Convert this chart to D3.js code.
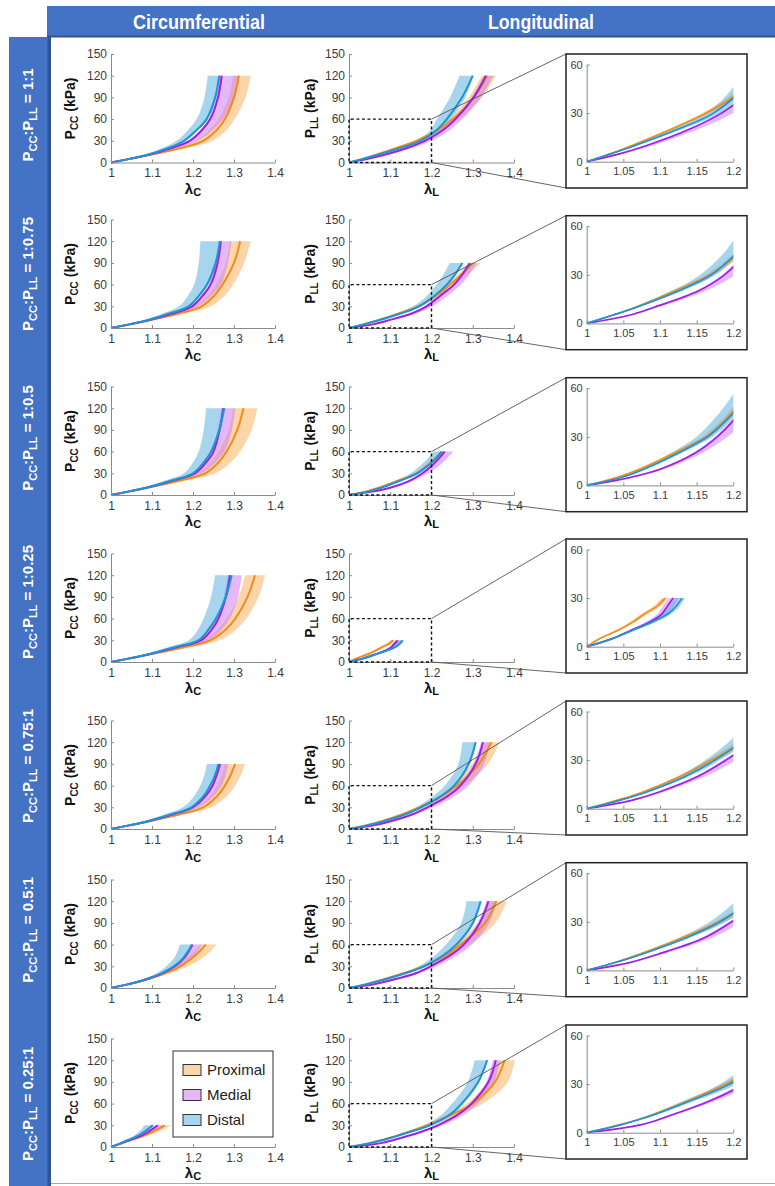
<!DOCTYPE html>
<html>
<head>
<meta charset="utf-8">
<script src="https://cdn.jsdelivr.net/npm/d3@7"></script>
<style>
  body { margin: 0; background: #fff; }
  svg { display: block; }
</style>
</head>
<body>
<svg id="fig" width="775" height="1186"></svg>
<script>
// ---- data ----
const ratioLabels = [["1", "1"], ["1", "0.75"], ["1", "0.5"], ["1", "0.25"], ["0.75", "1"], ["0.5", "1"], ["0.25", "1"]];
const regionNames = ["Proximal", "Medial", "Distal"];
const circMaxP = [120, 120, 120, 120, 90, 60, 30];
const longMaxP = [120, 90, 60, 30, 120, 120, 120];

// pressure levels (kPa) at which stretch was read
const P120 = [0, 5, 10, 20, 30, 45, 60, 90, 120];
const P90 = [0, 5, 10, 20, 30, 45, 60, 75, 90];
const P60 = [0, 5, 10, 20, 30, 40, 50, 60];
const P30 = [0, 5, 10, 15, 20, 25, 30];

const xTicks = [1, 1.1, 1.2, 1.3, 1.4];
const yTicks = [0, 30, 60, 90, 120, 150];
const insetXTicks = [1, 1.05, 1.1, 1.15, 1.2];
const insetYTicks = [0, 30, 60];

// circumferential stretch: mean, lower and upper band, one row per loading ratio
const circProxMean = [
  [1, 1.047, 1.090, 1.170, 1.225, 1.258, 1.278, 1.300, 1.312],
  [1, 1.046, 1.088, 1.165, 1.221, 1.252, 1.272, 1.300, 1.315],
  [1, 1.046, 1.088, 1.168, 1.230, 1.262, 1.282, 1.308, 1.323],
  [1, 1.047, 1.090, 1.175, 1.242, 1.280, 1.303, 1.333, 1.351],
  [1, 1.045, 1.088, 1.165, 1.225, 1.258, 1.278, 1.292, 1.303],
  [1, 1.040, 1.077, 1.130, 1.169, 1.195, 1.215, 1.231],
  [1, 1.025, 1.050, 1.078, 1.098, 1.116, 1.131]
];
const circProxLo = [
  [1, 1.044, 1.085, 1.160, 1.207, 1.240, 1.262, 1.287, 1.298],
  [1, 1.043, 1.083, 1.155, 1.205, 1.236, 1.255, 1.280, 1.290],
  [1, 1.043, 1.083, 1.157, 1.212, 1.243, 1.262, 1.287, 1.298],
  [1, 1.044, 1.085, 1.163, 1.224, 1.260, 1.282, 1.311, 1.327],
  [1, 1.042, 1.083, 1.155, 1.210, 1.240, 1.258, 1.270, 1.278],
  [1, 1.037, 1.072, 1.122, 1.158, 1.182, 1.202, 1.218],
  [1, 1.022, 1.045, 1.070, 1.088, 1.102, 1.114]
];
const circProxHi = [
  [1, 1.050, 1.096, 1.185, 1.248, 1.282, 1.302, 1.328, 1.341],
  [1, 1.049, 1.094, 1.180, 1.244, 1.278, 1.298, 1.325, 1.341],
  [1, 1.049, 1.094, 1.184, 1.255, 1.292, 1.315, 1.343, 1.357],
  [1, 1.050, 1.096, 1.190, 1.265, 1.306, 1.330, 1.360, 1.376],
  [1, 1.048, 1.094, 1.178, 1.245, 1.282, 1.303, 1.317, 1.327],
  [1, 1.043, 1.082, 1.142, 1.188, 1.220, 1.242, 1.258],
  [1, 1.028, 1.056, 1.088, 1.112, 1.131, 1.147]
];
const circMedMean = [
  [1, 1.045, 1.087, 1.148, 1.192, 1.222, 1.242, 1.261, 1.270],
  [1, 1.045, 1.087, 1.150, 1.198, 1.224, 1.243, 1.260, 1.268],
  [1, 1.045, 1.087, 1.152, 1.205, 1.232, 1.250, 1.265, 1.274],
  [1, 1.045, 1.088, 1.158, 1.220, 1.246, 1.262, 1.280, 1.290],
  [1, 1.044, 1.086, 1.150, 1.200, 1.230, 1.248, 1.258, 1.266],
  [1, 1.040, 1.075, 1.124, 1.156, 1.176, 1.189, 1.199],
  [1, 1.025, 1.048, 1.072, 1.088, 1.102, 1.114]
];
const circMedLo = [
  [1, 1.043, 1.084, 1.144, 1.188, 1.218, 1.238, 1.257, 1.265],
  [1, 1.043, 1.084, 1.146, 1.194, 1.220, 1.238, 1.254, 1.262],
  [1, 1.043, 1.084, 1.148, 1.200, 1.227, 1.245, 1.260, 1.269],
  [1, 1.043, 1.085, 1.154, 1.215, 1.241, 1.257, 1.275, 1.285],
  [1, 1.042, 1.083, 1.146, 1.196, 1.226, 1.243, 1.253, 1.260],
  [1, 1.038, 1.072, 1.120, 1.152, 1.172, 1.186, 1.196],
  [1, 1.023, 1.045, 1.068, 1.083, 1.096, 1.108]
];
const circMedHi = [
  [1, 1.048, 1.093, 1.160, 1.212, 1.248, 1.273, 1.300, 1.313],
  [1, 1.048, 1.092, 1.160, 1.213, 1.245, 1.268, 1.285, 1.294],
  [1, 1.048, 1.092, 1.162, 1.222, 1.255, 1.277, 1.295, 1.303],
  [1, 1.048, 1.093, 1.168, 1.238, 1.270, 1.290, 1.310, 1.319],
  [1, 1.047, 1.091, 1.160, 1.215, 1.250, 1.270, 1.280, 1.286],
  [1, 1.043, 1.080, 1.132, 1.170, 1.194, 1.210, 1.223],
  [1, 1.027, 1.052, 1.078, 1.097, 1.114, 1.130]
];
const circDistMean = [
  [1, 1.045, 1.085, 1.140, 1.178, 1.209, 1.233, 1.254, 1.264],
  [1, 1.044, 1.084, 1.142, 1.189, 1.215, 1.234, 1.255, 1.266],
  [1, 1.044, 1.085, 1.148, 1.200, 1.226, 1.244, 1.264, 1.276],
  [1, 1.044, 1.086, 1.152, 1.213, 1.238, 1.256, 1.280, 1.294],
  [1, 1.043, 1.084, 1.145, 1.196, 1.225, 1.242, 1.254, 1.262],
  [1, 1.040, 1.074, 1.122, 1.153, 1.174, 1.187, 1.197],
  [1, 1.022, 1.043, 1.064, 1.078, 1.091, 1.102]
];
const circDistLo = [
  [1, 1.041, 1.078, 1.125, 1.160, 1.188, 1.209, 1.228, 1.236],
  [1, 1.040, 1.076, 1.126, 1.166, 1.188, 1.203, 1.214, 1.218],
  [1, 1.040, 1.077, 1.132, 1.178, 1.200, 1.214, 1.226, 1.232],
  [1, 1.040, 1.078, 1.136, 1.190, 1.212, 1.226, 1.244, 1.254],
  [1, 1.039, 1.076, 1.130, 1.175, 1.202, 1.218, 1.228, 1.234],
  [1, 1.036, 1.067, 1.110, 1.135, 1.152, 1.162, 1.168],
  [1, 1.019, 1.037, 1.054, 1.066, 1.075, 1.082]
];
const circDistHi = [
  [1, 1.047, 1.089, 1.144, 1.183, 1.213, 1.237, 1.258, 1.267],
  [1, 1.046, 1.088, 1.146, 1.193, 1.219, 1.238, 1.259, 1.268],
  [1, 1.046, 1.089, 1.152, 1.204, 1.230, 1.248, 1.268, 1.279],
  [1, 1.046, 1.090, 1.156, 1.217, 1.242, 1.260, 1.284, 1.297],
  [1, 1.045, 1.088, 1.149, 1.200, 1.229, 1.246, 1.258, 1.265],
  [1, 1.042, 1.077, 1.126, 1.157, 1.178, 1.190, 1.199],
  [1, 1.024, 1.046, 1.067, 1.082, 1.095, 1.106]
];

// longitudinal stretch
const longProxMean = [
  [1, 1.033, 1.062, 1.115, 1.163, 1.216, 1.252, 1.303, 1.335],
  [1, 1.035, 1.067, 1.120, 1.168, 1.212, 1.245, 1.275, 1.300],
  [1, 1.042, 1.072, 1.120, 1.163, 1.188, 1.208, 1.227],
  [1, 1.018, 1.042, 1.062, 1.078, 1.096, 1.107],
  [1, 1.040, 1.075, 1.128, 1.170, 1.225, 1.262, 1.315, 1.345],
  [1, 1.040, 1.072, 1.130, 1.180, 1.235, 1.270, 1.330, 1.357],
  [1, 1.047, 1.083, 1.140, 1.190, 1.250, 1.300, 1.354, 1.377]
];
const longProxLo = [
  [1, 1.031, 1.059, 1.111, 1.158, 1.208, 1.242, 1.290, 1.322],
  [1, 1.033, 1.064, 1.116, 1.163, 1.205, 1.236, 1.265, 1.292],
  [1, 1.040, 1.069, 1.116, 1.158, 1.183, 1.203, 1.222],
  [1, 1.016, 1.039, 1.058, 1.074, 1.091, 1.102],
  [1, 1.038, 1.072, 1.124, 1.165, 1.215, 1.250, 1.298, 1.333],
  [1, 1.038, 1.069, 1.126, 1.175, 1.225, 1.258, 1.312, 1.342],
  [1, 1.045, 1.080, 1.136, 1.185, 1.238, 1.285, 1.335, 1.364]
];
const longProxHi = [
  [1, 1.035, 1.065, 1.119, 1.168, 1.226, 1.268, 1.322, 1.356],
  [1, 1.037, 1.070, 1.125, 1.174, 1.220, 1.256, 1.290, 1.320],
  [1, 1.044, 1.075, 1.124, 1.168, 1.194, 1.215, 1.235],
  [1, 1.020, 1.045, 1.066, 1.083, 1.101, 1.112],
  [1, 1.042, 1.078, 1.133, 1.178, 1.238, 1.280, 1.337, 1.365],
  [1, 1.042, 1.076, 1.136, 1.190, 1.250, 1.292, 1.355, 1.383],
  [1, 1.049, 1.086, 1.146, 1.200, 1.268, 1.325, 1.385, 1.402]
];
const longMedMean = [
  [1, 1.046, 1.082, 1.140, 1.184, 1.228, 1.258, 1.302, 1.332],
  [1, 1.058, 1.092, 1.152, 1.188, 1.222, 1.255, 1.276, 1.293],
  [1, 1.060, 1.100, 1.148, 1.178, 1.200, 1.217, 1.232],
  [1, 1.035, 1.060, 1.085, 1.102, 1.110, 1.118],
  [1, 1.060, 1.097, 1.152, 1.190, 1.238, 1.270, 1.307, 1.325],
  [1, 1.060, 1.097, 1.160, 1.198, 1.245, 1.278, 1.317, 1.338],
  [1, 1.075, 1.110, 1.170, 1.215, 1.265, 1.297, 1.338, 1.356]
];
const longMedLo = [
  [1, 1.045, 1.080, 1.138, 1.182, 1.225, 1.254, 1.297, 1.326],
  [1, 1.056, 1.090, 1.149, 1.185, 1.219, 1.251, 1.272, 1.288],
  [1, 1.058, 1.097, 1.145, 1.175, 1.197, 1.214, 1.228],
  [1, 1.033, 1.057, 1.080, 1.096, 1.104, 1.113],
  [1, 1.058, 1.094, 1.149, 1.186, 1.233, 1.265, 1.302, 1.320],
  [1, 1.058, 1.094, 1.156, 1.194, 1.240, 1.273, 1.312, 1.333],
  [1, 1.073, 1.107, 1.166, 1.210, 1.260, 1.292, 1.333, 1.348]
];
const longMedHi = [
  [1, 1.050, 1.090, 1.152, 1.200, 1.245, 1.275, 1.320, 1.350],
  [1, 1.062, 1.098, 1.162, 1.203, 1.240, 1.272, 1.293, 1.310],
  [1, 1.064, 1.106, 1.158, 1.192, 1.218, 1.237, 1.253],
  [1, 1.037, 1.064, 1.091, 1.110, 1.119, 1.126],
  [1, 1.064, 1.103, 1.162, 1.204, 1.255, 1.290, 1.328, 1.342],
  [1, 1.064, 1.103, 1.170, 1.212, 1.262, 1.298, 1.340, 1.358],
  [1, 1.078, 1.114, 1.178, 1.228, 1.280, 1.312, 1.352, 1.366]
];
const longDistMean = [
  [1, 1.034, 1.066, 1.124, 1.173, 1.213, 1.237, 1.274, 1.300],
  [1, 1.035, 1.068, 1.125, 1.170, 1.208, 1.237, 1.258, 1.275],
  [1, 1.048, 1.078, 1.125, 1.165, 1.190, 1.210, 1.224],
  [1, 1.035, 1.062, 1.088, 1.110, 1.122, 1.130],
  [1, 1.044, 1.080, 1.135, 1.175, 1.222, 1.255, 1.290, 1.307],
  [1, 1.040, 1.075, 1.135, 1.182, 1.228, 1.260, 1.300, 1.319],
  [1, 1.047, 1.085, 1.143, 1.195, 1.245, 1.273, 1.313, 1.335]
];
const longDistLo = [
  [1, 1.032, 1.062, 1.117, 1.163, 1.198, 1.213, 1.245, 1.268],
  [1, 1.032, 1.063, 1.115, 1.155, 1.190, 1.212, 1.230, 1.244],
  [1, 1.045, 1.073, 1.115, 1.150, 1.172, 1.190, 1.205],
  [1, 1.032, 1.057, 1.080, 1.100, 1.112, 1.121],
  [1, 1.041, 1.075, 1.125, 1.162, 1.203, 1.232, 1.265, 1.275],
  [1, 1.037, 1.070, 1.125, 1.168, 1.208, 1.235, 1.272, 1.285],
  [1, 1.044, 1.080, 1.134, 1.182, 1.225, 1.250, 1.288, 1.305]
];
const longDistHi = [
  [1, 1.036, 1.069, 1.130, 1.183, 1.226, 1.247, 1.282, 1.302],
  [1, 1.037, 1.071, 1.130, 1.176, 1.213, 1.242, 1.262, 1.277],
  [1, 1.050, 1.081, 1.130, 1.172, 1.197, 1.216, 1.228],
  [1, 1.037, 1.066, 1.093, 1.115, 1.127, 1.134],
  [1, 1.046, 1.083, 1.140, 1.182, 1.228, 1.260, 1.294, 1.309],
  [1, 1.042, 1.078, 1.140, 1.190, 1.235, 1.265, 1.304, 1.321],
  [1, 1.049, 1.088, 1.150, 1.205, 1.252, 1.278, 1.317, 1.337]
];

// ---- layout ----
const FONT = '"Liberation Sans", Arial, sans-serif';
const lineColors = ["#f28c18", "#a01fe8", "#1b96d2"];
const bandColors = ["#f9b560", "#cf7ef5", "#5fb2df"];
const bandOpacity = 0.55;
const rowBase = [162.5, 328, 495, 662, 829, 988, 1147];   // y of P = 0 in each row
const insetTop = [54, 215.7, 377.7, 539, 701, 862.7, 1025];
const labelMid = [115, 274, 438, 602, 766, 930, 1104];
const levelsFor = { 120: P120, 90: P90, 60: P60, 30: P30 };

const circSets = [
  { mean: circProxMean, lo: circProxLo, hi: circProxHi },
  { mean: circMedMean, lo: circMedLo, hi: circMedHi },
  { mean: circDistMean, lo: circDistLo, hi: circDistHi }
];
const longSets = [
  { mean: longProxMean, lo: longProxLo, hi: longProxHi },
  { mean: longMedMean, lo: longMedLo, hi: longMedHi },
  { mean: longDistMean, lo: longDistLo, hi: longDistHi }
];

const svg = d3.select("#fig").attr("font-family", FONT);
const fmt = d3.format("~g");
const smooth = d3.curveCatmullRom.alpha(0.5);

// blue frame
svg.append("rect").attr("x", 47).attr("y", 6).attr("width", 728).attr("height", 31).attr("fill", "#4472c4");
svg.append("rect").attr("x", 47).attr("y", 35.5).attr("width", 728).attr("height", 2).attr("fill", "#2f5597");
svg.append("rect").attr("x", 9).attr("y", 37).attr("width", 39).attr("height", 1149).attr("fill", "#4472c4");
svg.append("rect").attr("x", 47.5).attr("y", 37).attr("width", 3.5).attr("height", 1149).attr("fill", "#2f5597");
svg.append("line").attr("x1", 51).attr("x2", 775).attr("y1", 1183.5).attr("y2", 1183.5)
  .attr("stroke", "#8faadc").attr("stroke-width", 1.2);

svg.append("text").attr("x", 199).attr("y", 22).attr("dy", "0.36em")
  .attr("text-anchor", "middle").attr("fill", "#fff").attr("font-weight", "bold")
  .attr("font-size", 20).attr("textLength", 132).attr("lengthAdjust", "spacingAndGlyphs")
  .text("Circumferential");
svg.append("text").attr("x", 541).attr("y", 22).attr("dy", "0.36em")
  .attr("text-anchor", "middle").attr("fill", "#fff").attr("font-weight", "bold")
  .attr("font-size", 20).attr("textLength", 106).attr("lengthAdjust", "spacingAndGlyphs")
  .text("Longitudinal");

function styleAxis(g, size) {
  g.attr("font-family", FONT).attr("font-size", size);
  g.select(".domain").attr("stroke", "#8a8a8a");
  g.selectAll(".tick line").attr("stroke", "#8a8a8a");
  g.selectAll(".tick text").attr("fill", "#3a3a3a");
}

function drawCurves(g, x, y, levels, sets, r, lw) {
  const rows = sets.map(s => levels.map((p, i) => ({ p: p, m: s.mean[r][i], lo: s.lo[r][i], hi: s.hi[r][i] })));
  const area = d3.area().y(d => y(d.p)).x0(d => x(d.lo)).x1(d => x(d.hi)).curve(smooth);
  const line = d3.line().y(d => y(d.p)).x(d => x(d.m)).curve(smooth);
  rows.forEach((pts, k) => {
    g.append("path").datum(pts).attr("d", area)
      .attr("fill", bandColors[k]).attr("fill-opacity", bandOpacity);
  });
  rows.forEach((pts, k) => {
    g.append("path").datum(pts).attr("d", line)
      .attr("fill", "none").attr("stroke", lineColors[k]).attr("stroke-width", lw);
  });
}

function mainPanel(x, y, levels, sets, r, sub, titleX) {
  const g = svg.append("g");
  const y0 = y(0);
  drawCurves(g, x, y, levels, sets, r, 2);

  const ax = g.append("g").attr("transform", `translate(0,${y0})`)
    .call(d3.axisBottom(x).tickValues(xTicks).tickFormat(fmt).tickSizeInner(-3).tickSizeOuter(0).tickPadding(6));
  styleAxis(ax, 12);
  const ay = g.append("g").attr("transform", `translate(${x(1)},0)`)
    .call(d3.axisLeft(y).tickValues(yTicks).tickSizeInner(-3).tickSizeOuter(0).tickPadding(4));
  styleAxis(ay, 12);

  // y title
  const yt = g.append("text").attr("transform", `translate(${titleX},${y0 - 54}) rotate(-90)`)
    .attr("text-anchor", "middle").attr("font-weight", "bold").attr("font-size", 14).attr("fill", "#111");
  yt.append("tspan").text("P");
  yt.append("tspan").attr("dy", 3).attr("font-size", 10).text(sub + sub);
  yt.append("tspan").attr("dy", -3).text(" (kPa)");
  // x title
  const xt = g.append("text").attr("x", (x(1) + x(1.4)) / 2).attr("y", y0 + 31)
    .attr("text-anchor", "middle").attr("font-weight", "bold").attr("font-size", 15).attr("fill", "#111");
  xt.append("tspan").text("λ");
  xt.append("tspan").attr("dy", 2).attr("font-size", 11).text(sub);
  return g;
}

const circX = d3.scaleLinear().domain([1, 1.4]).range([111, 275]);
const longX = d3.scaleLinear().domain([1, 1.4]).range([349, 514]);

for (let r = 0; r < 7; r++) {
  const y0 = rowBase[r];
  const y = d3.scaleLinear().domain([0, 150]).range([y0, y0 - 108.5]);

  // row label
  const lt = svg.append("text")
    .attr("transform", `translate(28,${labelMid[r]}) rotate(-90)`)
    .attr("text-anchor", "middle").attr("dy", "0.36em")
    .attr("fill", "#fff").attr("font-weight", "bold").attr("font-size", 15);
  lt.append("tspan").text("P");
  lt.append("tspan").attr("dy", 4).attr("font-size", 11).text("CC");
  lt.append("tspan").attr("dy", -4).text(":P");
  lt.append("tspan").attr("dy", 4).attr("font-size", 11).text("LL");
  lt.append("tspan").attr("dy", -4).text(" = " + ratioLabels[r][0] + ":" + ratioLabels[r][1]);

  mainPanel(circX, y, levelsFor[circMaxP[r]], circSets, r, "C", 75);
  const lg = mainPanel(longX, y, levelsFor[longMaxP[r]], longSets, r, "L", 315);

  // zoom window and connectors
  const top = insetTop[r];
  svg.append("line").attr("x1", longX(1.2)).attr("y1", y(60)).attr("x2", 566).attr("y2", top)
    .attr("stroke", "#555").attr("stroke-width", 0.9);
  svg.append("line").attr("x1", longX(1.2)).attr("y1", y(0)).attr("x2", 566).attr("y2", top + 134)
    .attr("stroke", "#555").attr("stroke-width", 0.9);
  lg.append("path")
    .attr("d", `M${longX(1)},${y(0)}H${longX(1.2)}V${y(60)}H${longX(1)}Z`)
    .attr("fill", "none").attr("stroke", "#111").attr("stroke-width", 1.4).attr("stroke-dasharray", "3,2.5");

  // inset
  svg.append("rect").attr("x", 566).attr("y", top).attr("width", 181).attr("height", 134)
    .attr("fill", "#fff").attr("stroke", "#222").attr("stroke-width", 1.5);
  const ix = d3.scaleLinear().domain([1, 1.2]).range([586.7, 733.3]);
  const iy = d3.scaleLinear().domain([0, 60]).range([top + 107.7, top + 10.5]);
  svg.append("clipPath").attr("id", "clip" + r).append("rect")
    .attr("x", ix(1)).attr("y", iy(60)).attr("width", ix(1.2) - ix(1)).attr("height", iy(0) - iy(60));
  const ig = svg.append("g").attr("clip-path", `url(#clip${r})`);
  drawCurves(ig, ix, iy, levelsFor[longMaxP[r]], longSets, r, 1.7);
  const iax = svg.append("g").attr("transform", `translate(0,${iy(0)})`)
    .call(d3.axisBottom(ix).tickValues(insetXTicks).tickFormat(fmt).tickSizeInner(-3).tickSizeOuter(0).tickPadding(6));
  styleAxis(iax, 11);
  const iay = svg.append("g").attr("transform", `translate(${ix(1)},0)`)
    .call(d3.axisLeft(iy).tickValues(insetYTicks).tickSizeInner(-3).tickSizeOuter(0).tickPadding(4));
  styleAxis(iay, 11);
}

// legend
const leg = svg.append("g").attr("transform", "translate(173,1051)");
leg.append("rect").attr("width", 100).attr("height", 86).attr("fill", "#fff").attr("stroke", "#333").attr("stroke-width", 1);
regionNames.forEach((name, k) => {
  const cy = 19 + k * 25;
  leg.append("rect").attr("x", 10).attr("y", cy - 5.5).attr("width", 18).attr("height", 11)
    .attr("fill", bandColors[k]).attr("fill-opacity", bandOpacity).attr("stroke", "#333").attr("stroke-width", 1);
  leg.append("text").attr("x", 34).attr("y", cy).attr("dy", "0.36em")
    .attr("font-size", 15).attr("fill", "#222").text(name);
});
</script>
</body>
</html>
